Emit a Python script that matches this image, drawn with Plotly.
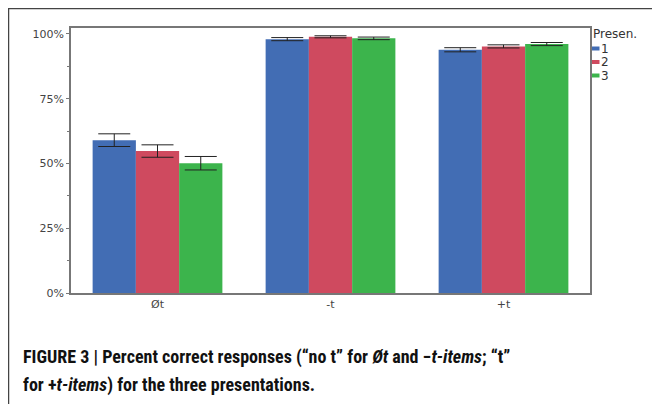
import plotly.graph_objects as go

categories = ["Øt", "-t", "+t"]
series_names = ["1", "2", "3"]
values_1 = [59.0, 98.0, 93.9]
values_2 = [54.8, 98.9, 95.2]
values_3 = [50.1, 98.3, 96.1]
errors_1 = [2.45, 0.6, 0.8]
errors_2 = [2.4, 0.4, 0.6]
errors_3 = [2.6, 0.5, 0.6]
y_tick_vals = [0, 25, 50, 75, 100]
y_tick_text = ["0%", "25%", "50%", "75%", "100%"]
colors = ["#426db4", "#cf4a5f", "#3cb44c"]
legend_title = "Presen."

O = 8  # page body margin offset
W, H = 660 - O, 404 - O
L, R, T, B = 71 - O, 590 - O, 28 - O, 293 - O

def px(x):
    return (x - O - L) / (R - L)

def py(y):
    return (B - (y - O)) / (B - T)

fig = go.Figure()
for name, vals, errs, col in zip(series_names, [values_1, values_2, values_3],
                                 [errors_1, errors_2, errors_3], colors):
    fig.add_trace(go.Bar(
        x=categories, y=vals, name=name,
        marker=dict(color=col, line=dict(width=0)),
        error_y=dict(type="data", array=errs, visible=True, color="#222222",
                     thickness=1, width=16),
    ))

shapes = [
    dict(type="line", xref="paper", yref="paper",
         x0=px(8), x1=px(W + 20), y0=py(8.5), y1=py(8.5),
         line=dict(color="#444444", width=1.5)),
    dict(type="line", xref="paper", yref="paper",
         x0=px(8.5), x1=px(8.5), y0=py(8), y1=py(H + 20),
         line=dict(color="#444444", width=1.5)),
]
annotations = [
    dict(xref="paper", yref="paper", x=px(591), y=py(34),
         xanchor="left", yanchor="middle", showarrow=False,
         text=legend_title, font=dict(family="DejaVu Sans", size=12, color="#333333")),
]
for i, (name, col) in enumerate(zip(series_names, colors)):
    yc = 48.5 + i * 13.5
    shapes.append(dict(type="rect", xref="paper", yref="paper",
                       x0=px(592), x1=px(599.5), y0=py(yc - 2), y1=py(yc + 2),
                       fillcolor=col, line=dict(width=0)))
    annotations.append(dict(xref="paper", yref="paper", x=px(599), y=py(yc),
                            xanchor="left", yanchor="middle", showarrow=False,
                            text=name,
                            font=dict(family="DejaVu Sans", size=12, color="#333333")))

cap_font = dict(family="Liberation Sans Narrow, Roboto Condensed, Liberation Sans",
                size=18, color="#111111")
annotations += [
    dict(xref="paper", yref="paper", x=px(21), y=py(357),
         xanchor="left", yanchor="middle", showarrow=False, align="left",
         text="<b>FIGURE 3 | Percent correct responses (“no t” for <i>Øt</i> and −<i>t-items</i>; “t”</b>",
         font=cap_font),
    dict(xref="paper", yref="paper", x=px(21), y=py(385),
         xanchor="left", yanchor="middle", showarrow=False, align="left",
         text="<b>for +<i>t-items</i>) for the three presentations.</b>",
         font=cap_font),
]

fig.update_layout(
    width=W, height=H,
    margin=dict(l=L, r=W - R, t=T, b=H - B, pad=0),
    paper_bgcolor="white", plot_bgcolor="white",
    barmode="group", bargap=0.25, bargroupgap=0,
    font=dict(family="DejaVu Sans", size=11, color="#444444"),
    showlegend=False,
    xaxis=dict(
        showline=True, linecolor="#777777", linewidth=1.5, mirror=True,
        ticks="", showgrid=False, tickfont=dict(size=11, color="#444444"),
    ),
    yaxis=dict(
        range=[0, 102.3], showline=True, linecolor="#777777", linewidth=1.5,
        mirror=True, showgrid=False, zeroline=False,
        tickmode="array", tickvals=y_tick_vals, ticktext=y_tick_text,
        ticks="outside", ticklen=3, tickcolor="#777777",
        minor=dict(tickmode="array", tickvals=[12.5, 37.5, 62.5, 87.5],
                   ticks="outside", ticklen=2, tickcolor="#777777"),
        tickfont=dict(size=11, color="#444444"),
    ),
    shapes=shapes,
    annotations=annotations,
)

fig.write_html("out.html")
